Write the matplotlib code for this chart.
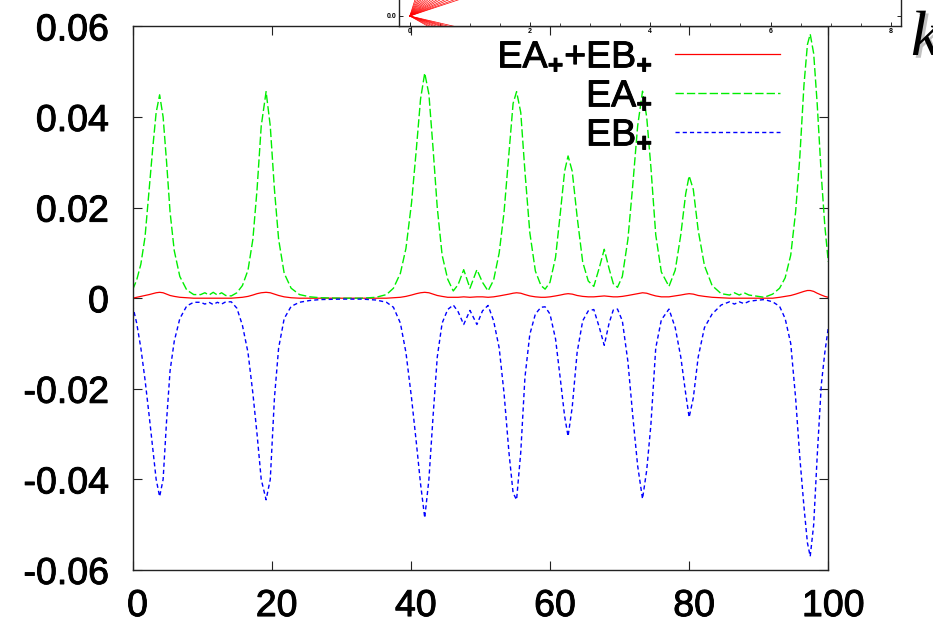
import numpy as np
import matplotlib
matplotlib.use('Agg')
import matplotlib.pyplot as plt
import matplotlib.patheffects as pe
from matplotlib.transforms import ScaledTranslation

plt.rcParams['font.family'] = ['Liberation Sans', 'DejaVu Sans']
plt.rcParams['mathtext.fontset'] = 'custom'
plt.rcParams['mathtext.rm'] = 'Liberation Sans'
plt.rcParams['mathtext.bf'] = 'Liberation Sans:bold'
plt.rcParams['lines.scale_dashes'] = False

# values
x = [0, 0.6, 1.2, 1.8, 2.4, 2.9, 3.4, 3.9, 4.4, 4.9,
     5.4, 6.0, 6.8, 7.8, 8.8, 9.8, 10.4, 11.0, 11.6, 12.2,
     12.8, 13.4, 14.2, 15.0, 15.8, 16.6, 17.3, 17.9, 18.5, 19.2,
     19.8, 20.4, 21.0, 21.8, 22.8, 24.0, 25.5, 27, 30, 33,
     35, 36.5, 37.5, 38.5, 39.3, 40.1, 40.8, 41.4, 42.0, 42.6,
     43.2, 43.8, 44.5, 45.3, 46.1, 46.8, 47.6, 48.5, 49.5, 50.3,
     51.1, 51.9, 52.7, 53.4, 54.1, 54.7, 55.2, 55.8, 56.4, 57.1,
     57.9, 58.7, 59.3, 60.0, 60.8, 61.5, 62.1, 62.6, 63.2, 63.9,
     64.7, 65.5, 66.3, 67.1, 67.8, 68.5, 69.1, 69.7, 70.4, 71.2,
     71.9, 72.6, 73.3, 73.9, 74.5, 75.2, 76.0, 77.1, 78.0, 78.8,
     79.5, 80.0, 80.6, 81.3, 82.2, 83.3, 84.6, 85.8, 86.5, 87.2,
     87.9, 88.6, 89.5, 90.8, 92.0, 93.0, 93.8, 94.6, 95.3, 95.9,
     96.5, 97.0, 97.4, 97.9, 98.4, 99.0, 99.5, 100]

ea = [0.0018, 0.004, 0.0075, 0.0135, 0.024, 0.033, 0.041, 0.0449, 0.040, 0.030,
      0.019, 0.0105, 0.0048, 0.0018, 0.0008, 0.0008, 0.0012, 0.0007, 0.0013, 0.0007,
      0.0012, 0.0006, 0.0005, 0.0012, 0.0028, 0.0062, 0.013, 0.024, 0.038, 0.0456,
      0.038, 0.024, 0.013, 0.0055, 0.0022, 0.0008, 0.0003, 0.0001, 0.0, 0.0,
      0.0002, 0.0008, 0.0022, 0.0055, 0.011, 0.021, 0.033, 0.044, 0.0497, 0.045,
      0.033, 0.020, 0.0095, 0.0042, 0.0016, 0.003, 0.0063, 0.0022, 0.0063, 0.0035,
      0.0016, 0.004, 0.010, 0.019, 0.032, 0.043, 0.0456, 0.041, 0.028, 0.0145,
      0.006, 0.0028, 0.002, 0.0035, 0.009, 0.019, 0.028, 0.0314, 0.028, 0.018,
      0.008, 0.0038, 0.0026, 0.0068, 0.0108, 0.0065, 0.0032, 0.0024, 0.0048, 0.013,
      0.025, 0.038, 0.0457, 0.040, 0.029, 0.014, 0.0058, 0.0026, 0.0062, 0.014,
      0.023, 0.027, 0.024, 0.015, 0.0072, 0.0028, 0.001, 0.0007, 0.0012, 0.0007,
      0.0012, 0.0007, 0.0005, 0.0002, 0.0009, 0.0022, 0.0045, 0.0095, 0.019, 0.031,
      0.047, 0.056, 0.0583, 0.054, 0.043, 0.027, 0.016, 0.008]

eb = [-0.0015, -0.0055, -0.011, -0.018, -0.026, -0.033, -0.040, -0.0438, -0.040, -0.027,
      -0.016, -0.0095, -0.0045, -0.0017, -0.0009, -0.0009, -0.0013, -0.0009, -0.0014, -0.0009,
      -0.0013, -0.0008, -0.0008, -0.0022, -0.006, -0.012, -0.021, -0.030, -0.040, -0.0445,
      -0.040, -0.022, -0.011, -0.0045, -0.0018, -0.0009, -0.0005, -0.0003, -0.0002, -0.0002,
      -0.0004, -0.0009, -0.002, -0.0055, -0.012, -0.022, -0.032, -0.041, -0.0485, -0.040,
      -0.026, -0.013, -0.0055, -0.0025, -0.0015, -0.003, -0.0058, -0.0027, -0.0058, -0.0028,
      -0.0016, -0.005, -0.011, -0.021, -0.034, -0.043, -0.0445, -0.034, -0.0175, -0.008,
      -0.0035, -0.002, -0.0019, -0.0035, -0.009, -0.018, -0.026, -0.0305, -0.024, -0.012,
      -0.005, -0.0028, -0.0025, -0.0065, -0.0104, -0.0055, -0.0026, -0.0024, -0.005, -0.014,
      -0.026, -0.037, -0.0443, -0.038, -0.028, -0.011, -0.0048, -0.0024, -0.0065, -0.013,
      -0.021, -0.0263, -0.022, -0.013, -0.0065, -0.0035, -0.0015, -0.0008, -0.0013, -0.0008,
      -0.0012, -0.0007, -0.0005, -0.0003, -0.0008, -0.0018, -0.0045, -0.010, -0.022, -0.035,
      -0.046, -0.054, -0.057, -0.050, -0.035, -0.019, -0.012, -0.0065]

esum = [0.0, 0.0002, 0.0004, 0.0006, 0.0008, 0.001, 0.0012, 0.0013, 0.0012, 0.0009,
        0.0006, 0.0004, 0.0002, 0.0001, 0.0, 0.0, 0.0, 0.0, 0.0, 0.0,
        0.0, 0.0, 0.0, 0.0001, 0.0002, 0.0004, 0.0007, 0.001, 0.0012, 0.0013,
        0.0012, 0.0009, 0.0006, 0.0003, 0.0001, 0.0, 0.0, 0.0, 0.0, 0.0,
        0.0, 0.0, 0.0001, 0.0002, 0.0004, 0.0007, 0.001, 0.0012, 0.0013, 0.0012,
        0.0009, 0.0006, 0.0004, 0.0002, 0.0002, 0.0002, 0.0003, 0.0002, 0.0003, 0.0003,
        0.0002, 0.0003, 0.0005, 0.0007, 0.0009, 0.0011, 0.0012, 0.0011, 0.0008, 0.0005,
        0.0003, 0.0002, 0.0002, 0.0003, 0.0005, 0.0007, 0.0009, 0.001, 0.0009, 0.0006,
        0.0004, 0.0003, 0.0003, 0.0004, 0.0005, 0.0004, 0.0003, 0.0003, 0.0004, 0.0006,
        0.0008, 0.001, 0.0012, 0.0011, 0.0008, 0.0005, 0.0003, 0.0003, 0.0005, 0.0007,
        0.0009, 0.001, 0.0009, 0.0006, 0.0004, 0.0002, 0.0001, 0.0, 0.0, 0.0,
        0.0, 0.0, 0.0, 0.0, 0.0, 0.0002, 0.0004, 0.0006, 0.0009, 0.0012,
        0.0015, 0.0017, 0.0017, 0.0015, 0.0011, 0.0007, 0.0004, 0.0002]

xticks = [0, 20, 40, 60, 80, 100]
yticks = [-0.06, -0.04, -0.02, 0, 0.02, 0.04, 0.06]
ytick_labels = ['-0.06', '-0.04', '-0.02', '0', '0.02', '0.04', '0.06']

# partly visible inset (cut off at the top of the picture)
inset_up = [1.9, 1.5, 1.2, 1.0, 0.85, 0.72, 0.62, 0.54, 0.47, 0.41, 0.36, 0.32, 0.28, 0.25, 0.22, 0.2]
inset_down = [-0.14, -0.16, -0.18, -0.2, -0.23, -0.26, -0.3, -0.34]
inset_k = [0, 8]

thick = [pe.withStroke(linewidth=0.7, foreground='black')]

fig = plt.figure(figsize=(9.33, 6.27), dpi=100)
ax = fig.add_axes([132.5/933, 57/627, 695.8/933, 543.6/627])

ax.plot(x, esum, color='#ff0000', lw=0.9, label=r'EA$_{\mathbf{+}}$+EB$_{\mathbf{+}}$')
ax.plot(x, ea, color='#00ee00', lw=1.0, dashes=(6, 2.2), label=r'EA$_{\mathbf{+}}$')
ax.plot(x, eb, color='#0000ff', lw=1.0, dashes=(3, 2.2), label=r'EB$_{\mathbf{+}}$')

ax.set_xlim(0, 100)
ax.set_ylim(-0.06, 0.06)
ax.set_xticks(xticks)
ax.set_xticklabels([str(t) for t in xticks])
ax.set_yticks(yticks)
ax.set_yticklabels(ytick_labels)
ax.tick_params(direction='in', length=6.5, width=0.8, top=True, right=True,
               labelsize=27, colors='#222222', labelcolor='black')
ax.tick_params(axis='x', pad=13)
ax.tick_params(axis='y', pad=17)
for lab in ax.get_xticklabels():
    lab.set_transform(lab.get_transform() + ScaledTranslation(5/100, 0, fig.dpi_scale_trans))
for lab in ax.get_xticklabels() + ax.get_yticklabels():
    lab.set_path_effects(thick)
for s in ax.spines.values():
    s.set_linewidth(1.0)
    s.set_color('#222222')

leg = ax.legend(loc='upper right', bbox_to_anchor=(0.931, 0.976), markerfirst=False, frameon=False,
                fontsize=27, handlelength=2.8, handletextpad=0.6, labelspacing=0.08,
                borderaxespad=0, borderpad=0)
for t in leg.get_texts():
    t.set_path_effects(thick)

ins = fig.add_axes([399/933, 1 - 26/627, 502/933, 100/627])
for s in inset_up + inset_down:
    ins.plot(inset_k, [0, s*inset_k[1]], color='#ff0000', lw=0.5)
ins.set_xlim(-0.18, 8.17)
ins.set_ylim(-0.1, 0.9)
ins.set_xticks([0, 2, 4, 6, 8])
ins.set_xticks(np.arange(0, 8.1, 0.5), minor=True)
ins.set_yticks([0.0])
ins.set_yticklabels(['0.0'])
ins.tick_params(direction='in', length=3, width=0.6, top=True, right=True, labelsize=5, pad=1.5)
ins.tick_params(which='minor', direction='in', length=2, width=0.5, top=True)
for lab in ins.get_xticklabels() + ins.get_yticklabels():
    lab.set_fontweight('bold')
for s in ins.spines.values():
    s.set_linewidth(1.0)
    s.set_color('#222222')

fig.text(911/933, 1 - 55/627, 'k', family=['Liberation Serif', 'DejaVu Serif'], style='italic',
         fontsize=46, color='black',
         path_effects=[pe.withSimplePatchShadow(offset=(2, -2), shadow_rgbFace='#999999', alpha=0.6)])

fig.savefig('out.png', dpi=100)
